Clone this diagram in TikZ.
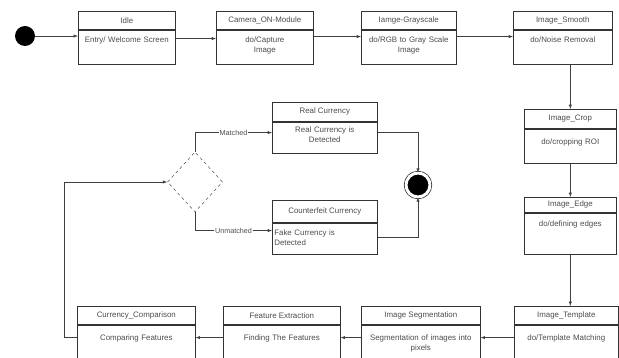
\documentclass[tikz,border=0pt]{standalone}
\usepackage{fontspec}
\setmainfont{Liberation Sans}
\usetikzlibrary{positioning, shapes.geometric}

\tikzset{
    head/.style={draw=black!80, line width=0.6pt, anchor=north west, minimum width=#1, minimum height=18pt, inner sep=0pt, text=black!70, font=\fontsize{7.9}{10}\selectfont},
    body/.style={draw=black!80, line width=0.6pt, text width=#1, inner sep=0pt, text height=13pt, text depth=21pt, align=center, text=black!70, font=\fontsize{7.9}{10}\selectfont},
    link/.style={->, >=latex, draw=black!75, line width=0.5pt},
    guard/.style={fill=white, inner sep=1pt, text=black!70, font=\fontsize{7.2}{8}\selectfont}
}

\begin{document}
\begin{tikzpicture}[x=1pt, y=-1pt]
        \clip (0,0) rectangle (619,358);

        \node [circle, fill=black, minimum size=20pt, inner sep=0pt] (init) at (25,36) {};

        \node [head=97pt] (idle) at (78,11) {Idle};
        \node [body=97pt, below=0pt of idle] (idleb) {Entry/ Welcome Screen};
        \node [head=97pt] (camera) at (216,11) {Camera\_ON-Module};
        \node [body=97pt, below=0pt of camera] (camerab) {do/Capture\\Image};
        \node [head=95pt] (gray) at (361,11) {Iamge-Grayscale};
        \node [body=95pt, below=0pt of gray] (grayb) {do/RGB to Gray Scale\\Image};
        \node [head=99pt] (smooth) at (513,11) {Image\_Smooth};
        \node [body=99pt, below=0pt of smooth] (smoothb) {do/Noise Removal};

        \node [head=92pt, minimum height=19pt] (crop) at (524,109) {Image\_Crop};
        \node [body=92pt, below=0pt of crop, text height=15.5pt, text depth=18.5pt] (cropb) {do/cropping ROI};
        \node [head=92pt, minimum height=15pt] (edge) at (524,197) {Image\_Edge};
        \node [body=92pt, below=0pt of edge, text height=13.5pt, text depth=27.5pt] (edgeb) {do/defining edges};

        \node [head=104pt] (templ) at (514,306) {Image\_Template};
        \node [body=104pt, below=0pt of templ, text height=16pt, text depth=40pt] (templb) {do/Template Matching};
        \node [head=119pt] (segm) at (361,306) {Image Segmentation};
        \node [body=119pt, below=0pt of segm, text height=16pt, text depth=40pt] (segmb) {Segmentation of images into\\pixels};
        \node [head=117pt] (feat) at (223,306) {Feature Extraction};
        \node [body=117pt, below=0pt of feat, text height=16pt, text depth=40pt] (featb) {Finding The Features};
        \node [head=118pt] (comp) at (77,306) {Currency\_Comparison};
        \node [body=118pt, below=0pt of comp, text height=16pt, text depth=40pt] (compb) {Comparing Features};

        \node [diamond, draw=black!70, dashed, line width=0.5pt, minimum width=55pt, minimum height=60pt, inner sep=0pt] (check) at (195,182) {};

        \node [head=105pt, minimum height=19pt] (real) at (272,102) {Real Currency};
        \node [body=105pt, below=0pt of real, text height=10.5pt, text depth=20.5pt] (realb) {Real Currency is\\Detected};
        \node [head=105pt, minimum height=22pt] (fake) at (272,200) {Counterfeit Currency};
        \node [body=105pt, below=0pt of fake, text height=12.5pt, text depth=18.5pt, align=left] (fakeb) {\hspace*{2pt}Fake Currency is\\\hspace*{2pt}Detected};

        \node [circle, fill=black, draw=black, line width=0.6pt, minimum size=24pt, inner sep=0pt, double=white, double distance=3pt] (final) at (418,185) {};

        \draw [link] (init.east) -- (init.east -| idleb.west);
        \draw [link] ([yshift=-9pt]idleb.north east) -- ([yshift=-9pt]camerab.north west);
        \draw [link] ([yshift=-7pt]camerab.north east) -- ([yshift=-7pt]grayb.north west);
        \draw [link] ([yshift=-7pt]grayb.north east) -- ([yshift=-7pt]smoothb.north west);
        \draw [link] (crop.north |- smoothb.south) -- (crop.north);
        \draw [link] (cropb.south) -- (edge.north);
        \draw [link] (edgeb.south) -- (edgeb.south |- templ.north);
        \draw [link] ([yshift=-13pt]templb.north west) -- ([yshift=-13pt]segmb.north east);
        \draw [link] ([yshift=-13pt]segmb.north west) -- ([yshift=-13pt]featb.north east);
        \draw [link] ([yshift=-13pt]featb.north west) -- ([yshift=-13pt]compb.north east);
        \draw [link] ([yshift=-13pt]compb.north west) -- ++(-13,0) |- (check.west);
        \draw [link] (check.north) |- ([yshift=-11pt]realb.north west) node [pos=0.75, guard] {Matched};
        \draw [link] (check.south) |- ([yshift=-8pt]fakeb.north west) node [pos=0.75, guard] {Unmatched};
        \draw [link] ([yshift=-11pt]realb.north east) -| (final.north);
        \draw [link] ([yshift=-15pt]fakeb.north east) -| (final.south);
    \end{tikzpicture}
\end{document}
